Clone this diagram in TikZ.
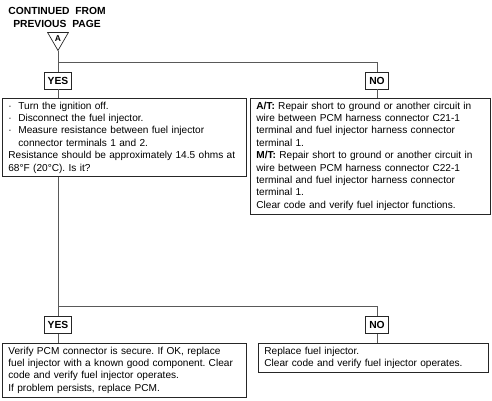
\documentclass[tikz,border=0pt]{standalone}
\usepackage{fontspec}
\setmainfont{Liberation Sans}
\usetikzlibrary{positioning,shapes.geometric}
\tikzset{stepbox/.style={draw=black!85,line width=0.7pt,anchor=north west,align=left,inner xsep=6pt,inner ysep=3.5pt,font=\fontsize{10.1}{12.4}\selectfont\frenchspacing}}
\tikzset{answer/.style={draw=black!85,line width=0.7pt,font=\fontsize{10.3}{12}\selectfont\bfseries,inner xsep=3.5pt,inner ysep=0pt,minimum height=17pt}}
\tikzset{link/.style={draw=black!65,line width=0.8pt}}
\newcommand\bul{\makebox[10pt][l]{\textperiodcentered}}

\begin{document}
\begin{tikzpicture}[x=1pt,y=-1pt]
	\useasboundingbox (0,0) rectangle (492,401);
	\node[font=\fontsize{10.3}{13}\selectfont\bfseries,align=center] (cont) at (57,17.5) {CONTINUED\ \ FROM\\PREVIOUS\ \ PAGE};
	\node[draw=black!85,line width=0.7pt,regular polygon,regular polygon sides=3,shape border rotate=180,minimum size=24pt,inner sep=0pt,font=\fontsize{8.5}{8.5}\selectfont\bfseries] (pA) at (58,38.5) {A};

	\coordinate (splitA) at (58,62);
	\node[answer] (yesA) at (58,80.5) {YES};
	\node[answer] (noA) at (377,80.5) {NO};

	\node[stepbox,text width=232pt] (check) at (2,98) {\bul Turn the ignition off.\\
		\bul Disconnect the fuel injector.\\
		\bul Measure resistance between fuel injector\\
		\hspace*{10pt}connector terminals 1 and 2.\\
		Resistance should be approximately 14.5 ohms at\\
		68°F (20°C). Is it?};
	\node[stepbox,text width=228pt] (repairA) at (250,98) {\textbf{A/T:} Repair short to ground or another circuit in\\
		wire between PCM harness connector C21-1\\
		terminal and fuel injector harness connector\\
		terminal 1.\\
		\textbf{M/T:} Repair short to ground or another circuit in\\
		wire between PCM harness connector C22-1\\
		terminal and fuel injector harness connector\\
		terminal 1.\\
		Clear code and verify fuel injector functions.};

	\coordinate (splitB) at (58,306);
	\node[answer] (yesB) at (58,325) {YES};
	\node[answer] (noB) at (377,325) {NO};

	\node[stepbox,text width=232pt] (verify) at (2,343) {Verify PCM connector is secure. If OK, replace\\
		fuel injector with a known good component. Clear\\
		code and verify fuel injector operates.\\
		If problem persists, replace PCM.};
	\node[stepbox,text width=218pt] (replace) at (258,343) {Replace fuel injector.\\
		Clear code and verify fuel injector operates.};

	\draw[link] (pA.south) -- (yesA.north);
	\draw[link] (splitA) -| (noA.north);
	\draw[link] (yesA.south) -- (yesA.south |- check.north);
	\draw[link] (noA.south) -- (noA.south |- repairA.north);
	\draw[link] (yesA |- check.south) -- (yesB.north);
	\draw[link] (splitB) -| (noB.north);
	\draw[link] (yesB.south) -- (yesB.south |- verify.north);
	\draw[link] (noB.south) -- (noB.south |- replace.north);
\end{tikzpicture}
\end{document}
